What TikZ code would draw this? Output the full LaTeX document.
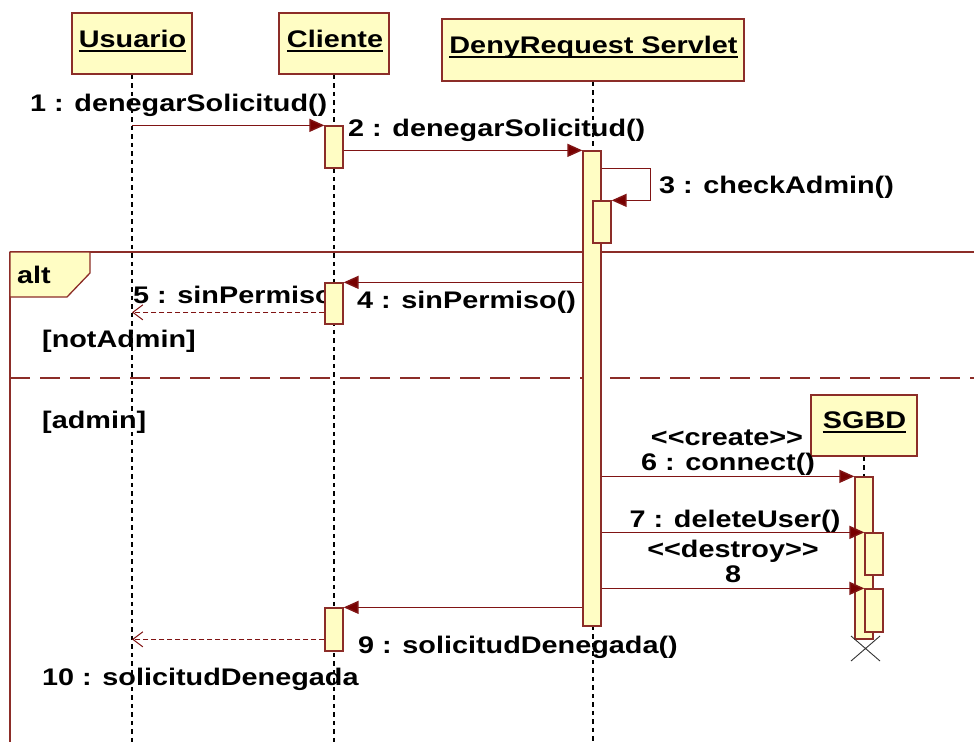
\documentclass[tikz,border=0pt]{standalone}
\usepackage{fontspec}
\setmainfont{Liberation Sans}[FakeStretch=1.2,Ligatures=TeXOff]
\usetikzlibrary{arrows.meta}
\definecolor{boxfill}{RGB}{255,253,196}
\definecolor{edgec}{RGB}{140,45,40}
\definecolor{msgc}{RGB}{128,20,20}
\definecolor{tipc}{RGB}{120,0,0}
\begin{document}
\begin{tikzpicture}[x=1pt,y=-1pt,
  obj/.style={draw=edgec, fill=boxfill, line width=1.5pt, inner sep=0pt, rectangle},
  actbar/.style={draw=edgec, fill=boxfill, line width=1.3pt, inner sep=0pt, rectangle, minimum width=18pt},
  life/.style={black, line width=1.1pt, dash pattern=on 4.5pt off 4pt},
  msg/.style={draw=msgc, line width=1.5pt, -{Triangle[length=15pt,width=13pt,fill=tipc]}},
  ret/.style={draw=msgc, line width=1.1pt, dash pattern=on 5pt off 3pt, -{Straight Barb[length=10pt,width=15pt,line width=1pt]}},
  lbl/.style={inner sep=0pt, anchor=base west, font=\fontsize{24}{28}\selectfont\bfseries},
  clbl/.style={inner sep=0pt, anchor=base, font=\fontsize{24}{28}\selectfont\bfseries},
  uline/.style={black, line width=1.6pt},
  frame/.style={draw=edgec, line width=1.3pt}
]
\useasboundingbox (0,0) rectangle (974,742);
\coordinate (bottom) at (0,742);
\coordinate (rightend) at (974,0);

% object boxes
\node[obj, minimum width=120pt, minimum height=61pt] (usuario) at (132,43.5) {};
\node[obj, minimum width=110pt, minimum height=61pt] (cliente) at (334,43.5) {};
\node[obj, minimum width=302pt, minimum height=62pt] (servlet) at (593,50) {};
\node[obj, minimum width=106pt, minimum height=61pt] (sgbd) at (864,425.5) {};

\node[clbl] (tu) at (132.5,47) {Usuario};
\node[clbl] (tc) at (335,47) {Cliente};
\node[clbl] (ts) at (593.5,53) {DenyRequest Servlet};
\node[clbl] (tg) at (864.5,428) {SGBD};
\foreach \t in {tu,tc,ts,tg}
  \draw[uline] ([yshift=-4pt]\t.base west) -- ([yshift=-4pt]\t.base east);

% lifelines
\draw[life] (usuario.south) -- (usuario.south |- bottom);
\draw[life] (cliente.south) -- (cliente.south |- bottom);
\draw[life] (servlet.south) -- (servlet.south |- bottom);

% alt frame
\coordinate (fa) at (10,252);
\draw[frame] (fa) -- (fa -| rightend);
\draw[frame] (fa) -- (fa |- bottom);
\coordinate (sep) at (10,378);
\draw[draw=edgec, line width=1.3pt, dash pattern=on 20pt off 10pt] (sep) -- (sep -| rightend);
\draw[frame, fill=boxfill] (fa) -- (90,252) -- (90,273) -- (67,297) -- (10,297) -- cycle;
\node[lbl] (altlbl) at (17,283) {alt};

% labels
\node[lbl] (l1) at (30,111) {1 : denegarSolicitud()};
\node[lbl] (l2) at (348,136) {2 : denegarSolicitud()};
\node[lbl] (l3) at (659,193) {3 : checkAdmin()};
\node[lbl] (l4) at (357,308) {4 : sinPermiso()};
\node[lbl] (l5) at (133,303) {5 : sinPermiso};
\node[lbl] (g1) at (42,347) {[notAdmin]};
\node[lbl] (g2) at (42,428) {[admin]};
\node[clbl] (l6a) at (727,445) {<<create>>};
\node[clbl] (l6) at (728,470) {6 : connect()};
\node[clbl] (l7) at (735,527) {7 : deleteUser()};
\node[clbl] (l8a) at (733,557) {<<destroy>>};
\node[clbl] (l8) at (733,582) {8};
\node[lbl] (l9) at (358,653) {9 : solicitudDenegada()};
\node[lbl] (l10) at (42,685) {10 : solicitudDenegada};

% SGBD lifeline (short)
\draw[life] (sgbd.south) -- (864,477);

% activation bars
\node[actbar, minimum height=42pt] (cb1) at (334,147) {};
\node[actbar, minimum height=41pt] (cb2) at (334,303.5) {};
\node[actbar, minimum height=43pt] (cb3) at (334,629.5) {};
\node[actbar, minimum height=475pt] (sb) at (592,388.5) {};
\node[actbar, minimum height=42pt] (sb2) at (602,222) {};
\node[actbar, minimum height=162pt] (db) at (864,558) {};
\node[actbar, minimum height=42pt] (db2) at (874,554) {};
\node[actbar, minimum height=43pt] (db3) at (874,610.5) {};

% messages
\draw[msg] (usuario.south |- cb1.north west) -- (cb1.north west);
\draw[msg] (cb1.east |- sb.north) -- (sb.north west);
\draw[msg] ([yshift=-18pt]sb.north east) -- ++(49,0) |- (sb2.north east);
\draw[msg] (sb.west |- cb2.north) -- (cb2.north east);
\coordinate (r5) at ([yshift=-30pt]cb2.north west);
\draw[ret] (r5) -- (usuario.south |- r5);
\draw[msg] (sb.east |- db.north) -- (db.north west);
\draw[msg] (sb.east |- db2.north) -- (db2.north west);
\draw[msg] (sb.east |- db3.north) -- (db3.north west);
\draw[msg] (sb.west |- cb3.north) -- (cb3.north east);
\coordinate (r10) at ([yshift=-32pt]cb3.north west);
\draw[ret] (r10) -- (usuario.south |- r10);

% destroy mark
\draw[black!80, line width=0.9pt] (851,636) -- (880,661) (851,661) -- (880,636);
\end{tikzpicture}
\end{document}
